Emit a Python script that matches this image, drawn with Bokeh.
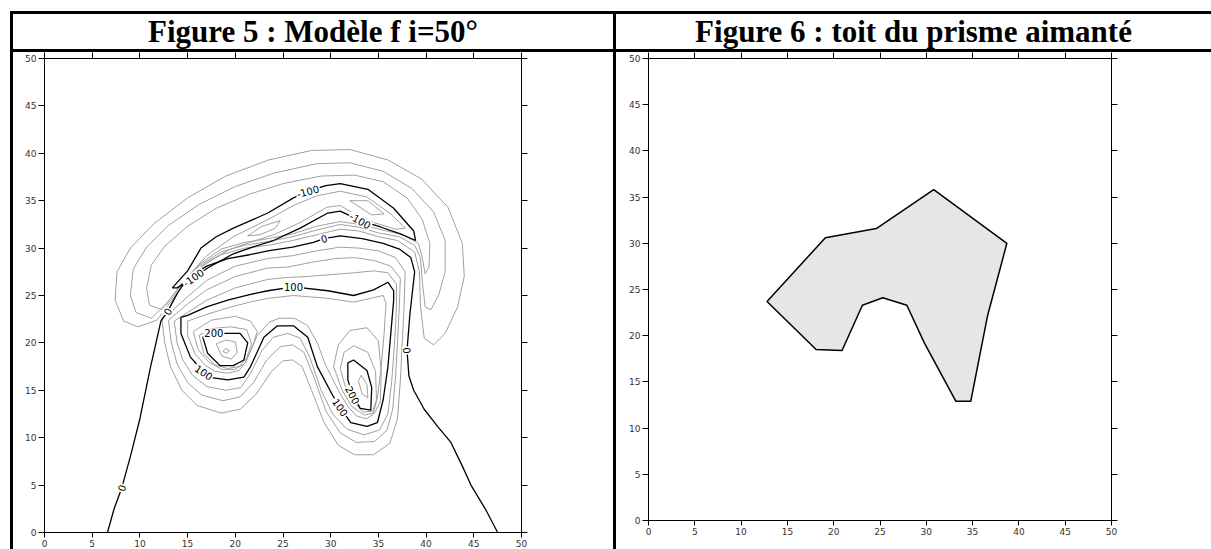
import math
from bokeh.plotting import figure
from bokeh.models import Div, LinearAxis, FixedTicker, Range1d, CustomJSTickFormatter
from bokeh.layouts import row, column
from bokeh.embed import file_html
from bokeh.resources import INLINE
from bokeh.core.properties import value

# ---------------------------------------------------------------- titles
title_left = "Figure 5 : Modèle f i=50°"
title_right = "Figure 6 : toit du prisme aimanté"

tick_values = [0, 5, 10, 15, 20, 25, 30, 35, 40, 45, 50]

# ---------------------------------------------------------------- contour lines (x, y in km), one list per traced line
# level 0 (open line, crossing the bottom edge twice)
iso_0 = [(6.6, 0.0), (7.3, 2.5), (8.1, 4.7), (9.0, 8.0), (10.0, 12.0), (11.1, 17.4), (11.8, 20.5),
         (12.2, 22.3), (12.9, 23.3), (13.9, 25.2), (15.0, 26.9), (17.0, 28.1), (19.2, 28.9), (21.5, 29.3),
         (23.4, 29.7), (26.0, 30.1), (28.2, 30.6), (29.3, 31.0), (31.0, 31.3), (33.3, 31.0), (35.5, 30.5),
         (37.2, 29.9), (38.4, 29.0), (38.8, 27.5), (38.7, 26.6), (38.3, 23.0), (38.0, 19.2), (38.2, 16.5),
         (38.7, 15.0), (39.8, 13.0), (41.2, 11.2), (42.6, 9.5), (43.8, 7.0), (44.7, 5.0), (46.2, 2.5), (47.5, 0.0)]

iso_m100 = [(13.4, 25.8), (15.0, 27.6), (16.4, 30.0), (18.0, 31.2), (19.8, 32.1), (23.4, 33.7), (26.1, 35.3),
            (27.6, 36.0), (29.5, 36.6), (31.0, 36.8), (33.9, 36.2), (36.6, 34.2), (38.7, 31.8), (38.9, 30.8),
            (37.3, 31.5), (35.3, 32.2), (33.1, 32.9), (31.0, 33.9), (29.7, 33.7), (26.8, 32.1), (24.0, 30.8),
            (21.8, 30.1), (19.8, 29.4), (17.1, 27.9), (15.6, 26.9), (13.9, 25.8), (13.4, 25.8)]

iso_100 = [(14.3, 22.7), (15.0, 22.9), (17.0, 23.8), (19.2, 24.5), (21.5, 25.1), (23.4, 25.5), (26.1, 25.9),
           (29.7, 25.5), (32.4, 25.0), (34.5, 25.6), (36.0, 26.4), (36.6, 25.5), (36.6, 24.5), (36.3, 21.0),
           (36.0, 17.5), (35.5, 14.0), (34.9, 11.6), (33.8, 11.2), (32.1, 11.6), (31.0, 13.2), (30.3, 14.3),
           (28.6, 17.5), (27.6, 20.6), (26.1, 21.8), (24.4, 21.8), (23.0, 20.6), (21.6, 17.5), (20.9, 16.4),
           (19.2, 16.1), (17.7, 16.3), (16.7, 16.9), (15.3, 18.5), (14.3, 21.0), (14.3, 22.7)]

iso_200_w = [(17.75, 21.0), (19.3, 21.0), (20.5, 21.0), (21.3, 20.0), (20.9, 18.2), (19.8, 17.6), (18.4, 17.6),
             (17.1, 18.9), (16.6, 20.6), (17.75, 21.0)]
iso_200_e = [(31.8, 17.9), (32.4, 18.2), (33.8, 17.1), (34.3, 15.3), (34.2, 12.9), (33.1, 13.1), (32.3, 14.5),
             (31.8, 16.1), (31.8, 17.9)]

iso_m25 = [(9.8, 21.7), (8.3, 22.3), (7.4, 24.5), (7.6, 27.5), (9.0, 30.0), (11.5, 32.6), (15.0, 35.3),
           (19.0, 37.6), (23.5, 39.3), (28.0, 40.3), (32.0, 40.4), (36.0, 39.3), (39.5, 37.3), (42.3, 34.3),
           (43.8, 30.5), (44.0, 27.0), (43.3, 23.8), (42.0, 21.0), (40.8, 19.8), (39.8, 20.5), (39.4, 24.0),
           (39.3, 27.5), (38.8, 29.6), (37.0, 30.8), (35.0, 31.2), (33.0, 31.8), (31.0, 32.0), (28.5, 31.4),
           (26.0, 30.8), (23.5, 30.3), (21.0, 30.0), (18.5, 29.3), (16.0, 27.8), (14.2, 25.6), (13.0, 24.0),
           (11.8, 22.4), (9.8, 21.7)]
iso_m50 = [(11.2, 22.6), (9.6, 23.2), (9.0, 25.0), (9.3, 27.8), (10.7, 30.1), (13.0, 32.4), (16.2, 34.6),
           (20.0, 36.5), (24.0, 37.9), (28.5, 38.9), (32.0, 39.0), (35.5, 38.1), (38.5, 36.3), (40.8, 33.8),
           (42.0, 30.8), (42.0, 27.5), (41.3, 25.0), (40.5, 23.5), (39.9, 23.8), (39.6, 26.5), (39.4, 29.0),
           (38.8, 30.3), (37.2, 31.2), (35.0, 31.6), (33.0, 32.2), (31.0, 32.5), (28.5, 31.9), (26.0, 31.2),
           (23.5, 30.7), (21.0, 30.3), (18.5, 29.6), (16.2, 28.1), (14.2, 26.0), (12.8, 24.2), (11.2, 22.6)]
iso_m75 = [(12.3, 23.5), (11.0, 24.0), (10.7, 25.8), (11.2, 28.2), (12.6, 30.2), (15.0, 32.3), (18.0, 34.2),
           (21.5, 35.7), (25.0, 36.8), (29.0, 37.6), (32.5, 37.7), (35.5, 37.0), (38.0, 35.3), (39.6, 33.0),
           (40.4, 30.5), (40.3, 28.0), (39.9, 27.3), (39.6, 29.0), (39.2, 30.5), (37.6, 31.4), (35.5, 31.9),
           (33.0, 32.5), (31.0, 32.8), (28.5, 32.3), (26.0, 31.5), (23.5, 31.0), (21.0, 30.6), (18.5, 29.9),
           (16.4, 28.4), (14.5, 26.5), (13.3, 24.6), (12.3, 23.5)]
iso_m125 = [(15.2, 27.2), (17.0, 29.2), (19.8, 31.2), (23.4, 33.0), (26.1, 34.5), (28.5, 35.5), (31.0, 36.0),
            (33.8, 35.4), (36.3, 33.6), (37.8, 32.1), (36.8, 32.0), (34.5, 32.7), (32.5, 33.6), (31.0, 34.5),
            (29.6, 34.3), (26.8, 32.7), (24.0, 31.4), (21.5, 30.6), (19.5, 29.9), (17.2, 28.6), (15.2, 27.2)]
iso_m150_w = [(21.3, 31.3), (22.8, 32.3), (24.7, 32.9), (24.2, 32.1), (22.6, 31.4), (21.3, 31.3)]
iso_m150_e = [(32.0, 35.0), (33.9, 35.0), (35.6, 33.6), (34.3, 33.5), (32.0, 35.0)]

iso_25 = [(12.3, 22.6), (12.6, 20.0), (13.2, 17.5), (14.4, 15.0), (16.0, 13.4), (18.5, 12.6), (20.5, 13.0),
          (22.2, 14.6), (23.8, 17.0), (25.0, 18.1), (26.0, 18.2), (27.0, 17.5), (28.0, 15.0), (29.3, 11.6),
          (30.8, 9.2), (32.5, 8.2), (34.5, 8.2), (36.2, 9.4), (37.0, 12.0), (37.3, 16.0), (37.5, 20.0),
          (37.7, 24.0), (37.8, 27.5), (36.8, 29.0), (35.0, 29.7), (33.0, 30.0), (31.0, 30.1), (28.5, 29.7),
          (26.0, 29.2), (23.4, 28.9), (20.0, 28.1), (17.0, 26.6), (14.8, 24.7), (13.4, 23.4), (12.3, 22.6)]
iso_50 = [(13.0, 22.4), (13.3, 20.0), (13.9, 17.8), (15.0, 15.8), (16.5, 14.5), (18.7, 13.9), (20.5, 14.3),
          (21.9, 15.8), (23.3, 18.2), (24.7, 19.6), (26.0, 19.8), (27.2, 19.0), (28.2, 16.5), (29.5, 12.8),
          (31.0, 10.5), (32.7, 9.5), (34.6, 9.6), (35.9, 10.8), (36.5, 13.0), (36.8, 16.5), (37.0, 20.0),
          (37.2, 24.0), (37.3, 26.8), (36.3, 28.1), (34.5, 28.7), (32.5, 29.0), (30.5, 28.9), (28.0, 28.5),
          (25.5, 28.0), (23.4, 27.9), (20.0, 27.0), (17.0, 25.6), (15.0, 24.1), (13.8, 23.1), (13.0, 22.4)]
iso_75 = [(13.6, 22.3), (13.9, 20.0), (14.5, 18.2), (15.5, 16.6), (17.0, 15.4), (19.0, 15.0), (20.6, 15.3),
          (21.6, 16.8), (22.8, 19.2), (24.0, 20.6), (25.5, 21.0), (26.8, 20.5), (27.8, 18.5), (29.0, 15.0),
          (30.2, 12.5), (31.7, 10.9), (33.5, 10.3), (35.1, 10.8), (36.0, 12.5), (36.4, 16.0), (36.7, 20.0),
          (36.9, 24.0), (36.9, 26.2), (36.0, 27.4), (34.5, 27.6), (32.5, 27.4), (30.0, 27.2), (27.5, 27.0),
          (25.5, 26.9), (23.4, 26.7), (20.0, 25.8), (17.0, 24.5), (15.0, 23.2), (13.6, 22.3)]
iso_125 = [(15.0, 22.3), (15.0, 20.8), (15.8, 18.8), (16.9, 17.6), (17.9, 17.0), (19.2, 16.8), (20.4, 17.1),
           (21.1, 18.0), (22.3, 20.8), (23.6, 22.2), (24.6, 22.6), (26.2, 22.6), (27.6, 21.8), (28.6, 20.0),
           (29.4, 17.8), (30.9, 14.8), (31.8, 13.3), (32.7, 12.3), (33.7, 12.0), (34.4, 12.4), (34.9, 14.2),
           (35.3, 17.5), (35.6, 21.0), (35.8, 24.2), (35.5, 25.0), (34.6, 24.8), (32.4, 24.3), (29.7, 24.7),
           (26.1, 25.0), (23.4, 24.7), (21.5, 24.3), (19.2, 23.7), (17.0, 23.0), (15.0, 22.3)]
iso_150_w = [(15.6, 21.2), (16.1, 19.3), (17.2, 18.0), (18.6, 17.2), (19.9, 17.2), (21.0, 17.8), (21.8, 19.6),
             (22.3, 21.2), (21.6, 22.3), (20.0, 22.8), (17.5, 22.4), (15.6, 21.2)]
iso_175_w = [(16.2, 20.8), (16.7, 18.9), (17.8, 17.7), (19.2, 17.3), (20.4, 17.5), (21.2, 18.4), (21.7, 19.9),
             (21.2, 21.4), (19.5, 21.7), (17.5, 21.5), (16.2, 20.8)]
iso_225_w = [(18.0, 19.9), (18.6, 18.6), (19.6, 18.3), (20.2, 19.0), (20.0, 20.1), (19.0, 20.3), (18.0, 19.9)]
iso_250_w = [(18.7, 19.1), (19.1, 18.9), (19.4, 19.2), (19.0, 19.4), (18.7, 19.1)]
iso_150_e = [(30.3, 17.5), (30.8, 19.8), (32.0, 21.3), (33.8, 21.6), (35.0, 20.2), (35.3, 17.0), (35.2, 13.8),
             (34.6, 12.6), (33.5, 12.4), (32.2, 13.3), (31.2, 15.0), (30.3, 17.5)]
iso_175_e = [(31.0, 17.3), (31.4, 19.0), (32.4, 19.7), (33.9, 19.0), (34.7, 17.0), (34.8, 14.0), (34.4, 12.8),
             (33.4, 12.7), (32.4, 13.8), (31.5, 15.5), (31.0, 17.3)]
iso_225_e = [(32.9, 16.0), (33.2, 16.6), (33.8, 15.6), (33.9, 14.2), (33.3, 14.6), (32.9, 16.0)]

# main (labelled) levels drawn in black, intermediate ones in grey
major_lines = [(iso_0, 0), (iso_m100, -100), (iso_100, 100), (iso_200_w, 200), (iso_200_e, 200)]
minor_lines = [(iso_m25, -25), (iso_m50, -50), (iso_m75, -75), (iso_m125, -125), (iso_m150_w, -150),
               (iso_m150_e, -150), (iso_25, 25), (iso_50, 50), (iso_75, 75), (iso_125, 125),
               (iso_150_w, 150), (iso_175_w, 175), (iso_225_w, 225), (iso_250_w, 250),
               (iso_150_e, 150), (iso_175_e, 175), (iso_225_e, 225)]

# contour labels: position on the line, text angle (deg) and level
label_x = [27.6, 33.1, 15.6, 29.3, 12.9, 8.1, 38.0, 26.1, 16.7, 31.0, 17.75, 32.3]
label_y = [36.0, 32.9, 26.9, 31.0, 23.3, 4.7, 19.2, 25.9, 16.9, 13.2, 21.0, 14.5]
label_angle = [15, -30, 35, 15, 60, 72, -88, 0, -33, -55, 0, -62]
label_level = [-100, -100, -100, 0, 0, 0, 0, 100, 100, 100, 200, 200]

# ---------------------------------------------------------------- prism roof polygon (km)
roof_x = [12.8, 19.1, 24.6, 30.8, 38.7, 36.6, 34.8, 33.2, 29.8, 27.9, 25.3, 23.1, 20.9, 18.1]
roof_y = [23.7, 30.6, 31.6, 35.8, 30.0, 22.1, 12.9, 12.9, 19.2, 23.3, 24.1, 23.3, 18.4, 18.5]

blank_labels = CustomJSTickFormatter(code="return ''")


def make_panel(width, height, b_left, b_right, b_top, b_bottom):
    p = figure(width=width, height=height, x_range=Range1d(0, 50), y_range=Range1d(0, 50),
               output_backend="svg", toolbar_location=None,
               x_axis_location=None, y_axis_location=None,
               min_border_left=b_left, min_border_right=b_right,
               min_border_top=b_top, min_border_bottom=b_bottom,
               background_fill_color="white", border_fill_color="white")
    p.grid.grid_line_color = None
    p.outline_line_color = None
    for loc, tick_out in (("left", 6), ("below", 5), ("above", 6), ("right", 6)):
        ax = LinearAxis(ticker=FixedTicker(ticks=tick_values))
        ax.axis_line_color = "black"
        ax.axis_line_width = 1
        ax.major_tick_line_color = "black"
        ax.major_tick_in = 0
        ax.major_tick_out = tick_out
        ax.minor_tick_line_color = None
        if loc in ("left", "below"):
            ax.major_label_text_font = "DejaVu Sans"
            ax.major_label_text_font_size = "9px"
            ax.major_label_text_color = "#333333"
            ax.major_label_standoff = 2
        else:
            # tick marks only on the top and right edges
            ax.formatter = blank_labels
            ax.major_label_text_font_size = "0px"
            ax.major_label_standoff = 0
        p.add_layout(ax, loc)
    return p


# ---------------------------------------------------------------- left panel: anomaly map
p1 = make_panel(600, 497, 31, 92, 6, 16)

p1.multi_line(xs=[[pt[0] for pt in ln] for ln, _ in minor_lines],
              ys=[[pt[1] for pt in ln] for ln, _ in minor_lines],
              line_color="#a0a0a0", line_width=1)
p1.multi_line(xs=[[pt[0] for pt in ln] for ln, _ in major_lines],
              ys=[[pt[1] for pt in ln] for ln, _ in major_lines],
              line_color="black", line_width=1.3)
p1.text(x=label_x, y=label_y, text=[str(v) for v in label_level],
        angle=[math.radians(a) for a in label_angle],
        text_align="center", text_baseline="middle",
        text_font=value("DejaVu Sans"), text_font_size="10px", text_color="black",
        background_fill_color="white", padding=1)

# ---------------------------------------------------------------- right panel: prism roof
p2 = make_panel(595, 485, 32, 100, 6, 16)
p2.patch(x=roof_x, y=roof_y, fill_color="#e6e6e6", line_color="black", line_width=1.5)

# ---------------------------------------------------------------- table frame and titles
title_font = "font-family:'Liberation Serif';font-weight:bold;font-size:31px;line-height:34px;color:#000;"
head_html = (
    '<div style="position:relative;width:1211px;height:52px;background:#fff;">'
    '<div style="position:absolute;left:10px;top:11px;width:1201px;height:3px;background:#000;"></div>'
    '<div style="position:absolute;left:10px;top:49px;width:1201px;height:3px;background:#000;"></div>'
    '<div style="position:absolute;left:10px;top:11px;width:3px;height:41px;background:#000;"></div>'
    '<div style="position:absolute;left:613px;top:11px;width:3px;height:41px;background:#000;"></div>'
    f'<div style="position:absolute;left:13px;top:15px;width:600px;text-align:center;white-space:nowrap;{title_font}">{title_left}</div>'
    f'<div style="position:absolute;left:616px;top:15px;width:595px;text-align:center;white-space:nowrap;{title_font}">{title_right}</div>'
    '</div>'
)
head = Div(text=head_html, width=1211, height=52, margin=0)
gap = Div(text="", width=10, height=497, margin=0)
rule_a = Div(text='<div style="width:3px;height:497px;background:#000;"></div>', width=3, height=497, margin=0)
rule_b = Div(text='<div style="width:3px;height:497px;background:#000;"></div>', width=3, height=497, margin=0)
foot = Div(text="", width=595, height=12, margin=0)

layout = column(head, row(gap, rule_a, column(p1), rule_b, column(p2, foot), spacing=0), spacing=0)

open("out.html", "w").write(file_html(layout, INLINE))
